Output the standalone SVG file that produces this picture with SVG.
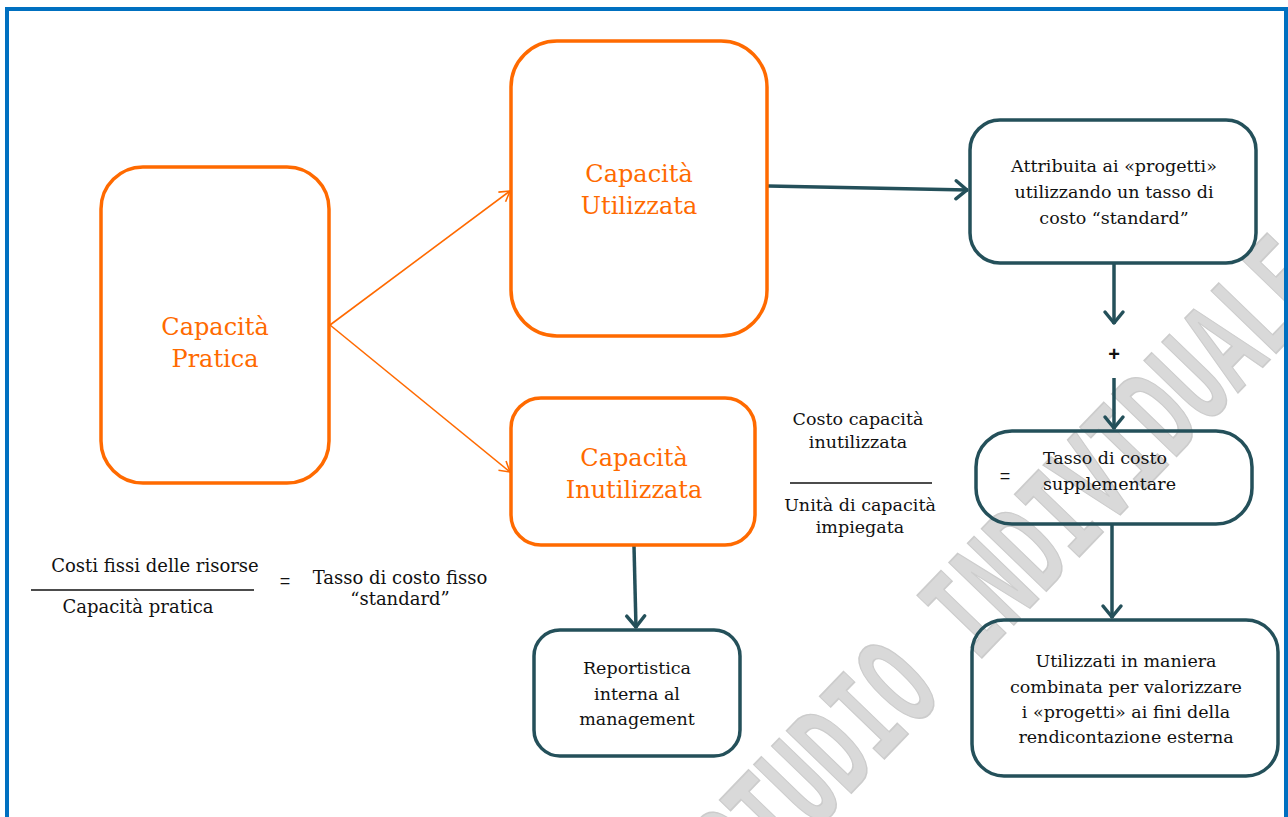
<svg xmlns="http://www.w3.org/2000/svg" width="1288" height="817" viewBox="0 0 1288 817">
<defs>
<style>
.bg{fill:#ffffff}
.frame{fill:none;stroke:#0070C0;stroke-width:4}
.on{fill:none;stroke:#FF6A00;stroke-width:3.5}
.dn{fill:none;stroke:#24505A;stroke-width:3.5}
.ot{font-family:"DejaVu Serif","Liberation Serif",serif;font-size:24px;fill:#FF6A00;text-anchor:middle}
.t{font-family:"DejaVu Serif","Liberation Serif",serif;font-size:17.5px;fill:#111111;text-anchor:middle}
.f{font-size:18px}
.sym{font-family:"Liberation Sans",sans-serif;font-size:20px;font-weight:bold}
.ol{fill:none;stroke:#FF6A00;stroke-width:1.6}
.dl{fill:none;stroke:#24505A;stroke-width:3.5}
.rule{stroke:#111111;stroke-width:1.6}
.wm{font-family:"Liberation Mono","DejaVu Sans Mono",monospace;font-weight:bold;font-size:78px;fill:#d9d9d9;stroke:#cccccc;stroke-width:1}
</style>
<marker id="oa" markerWidth="14" markerHeight="14" refX="12" refY="7" orient="auto" markerUnits="userSpaceOnUse">
<path d="M2,1 L12,7 L2,13" fill="none" stroke="#FF6A00" stroke-width="1.6"/>
</marker>
<marker id="da" markerWidth="24" markerHeight="24" refX="20" refY="12" orient="auto" markerUnits="userSpaceOnUse">
<path d="M8,3 L19,12 L8,21" fill="none" stroke="#24505A" stroke-width="3.5" stroke-linecap="round" stroke-linejoin="round"/>
</marker>
</defs>
<rect class="bg" x="0" y="0" width="1288" height="817"/>

<g id="watermark">
<text class="wm" transform="translate(750,898) rotate(-46) scale(1,1.75)">STUDIO INDIVIDUALE</text>
</g>

<rect class="frame" x="7" y="9" width="1279" height="830"/>

<g id="connectors">
<line class="ol" x1="330" y1="325" x2="510" y2="191" marker-end="url(#oa)"/>
<line class="ol" x1="330" y1="325" x2="510" y2="472" marker-end="url(#oa)"/>
<line class="dl" x1="768" y1="186" x2="968" y2="190" marker-end="url(#da)"/>
<line class="dl" x1="1114" y1="264" x2="1114" y2="324" marker-end="url(#da)"/>
<line class="dl" x1="1114" y1="378" x2="1114" y2="429" marker-end="url(#da)"/>
<line class="dl" x1="1112" y1="525" x2="1112" y2="618" marker-end="url(#da)"/>
<line class="dl" x1="634" y1="546" x2="636" y2="628" marker-end="url(#da)"/>
</g>

<g id="capacita-pratica">
<rect class="on" x="101" y="167" width="228" height="316" rx="42"/>
<text class="ot" x="215" y="335">Capacità</text>
<text class="ot" x="215" y="367">Pratica</text>
</g>

<g id="capacita-utilizzata">
<rect class="on" x="511" y="41" width="256" height="295" rx="46"/>
<text class="ot" x="639" y="182">Capacità</text>
<text class="ot" x="639" y="214">Utilizzata</text>
</g>

<g id="capacita-inutilizzata">
<rect class="on" x="511" y="398" width="244" height="147" rx="30"/>
<text class="ot" x="634" y="466">Capacità</text>
<text class="ot" x="634" y="498">Inutilizzata</text>
</g>

<g id="attribuita">
<rect class="dn" x="970" y="120" width="286" height="143" rx="30"/>
<text class="t" x="1114" y="172">Attribuita ai «progetti»</text>
<text class="t" x="1114" y="198">utilizzando un tasso di</text>
<text class="t" x="1114" y="224">costo “standard”</text>
</g>

<g id="plus">
<text class="t sym" x="1114" y="361">+</text>
</g>

<g id="tasso-supplementare">
<rect class="dn" x="976" y="431" width="276" height="93" rx="36"/>
<text class="t sym" x="1005" y="482" style="font-weight:normal;font-size:18px">=</text>
<text class="t" x="1043" y="464" style="text-anchor:start">Tasso di costo</text>
<text class="t" x="1043" y="490" style="text-anchor:start">supplementare</text>
</g>

<g id="utilizzati">
<rect class="dn" x="972" y="620" width="306" height="156" rx="32"/>
<text class="t" x="1126" y="667">Utilizzati in maniera</text>
<text class="t" x="1126" y="693">combinata per valorizzare</text>
<text class="t" x="1126" y="718">i «progetti» ai fini della</text>
<text class="t" x="1126" y="743">rendicontazione esterna</text>
</g>

<g id="reportistica">
<rect class="dn" x="534" y="630" width="206" height="126" rx="26"/>
<text class="t" x="637" y="674">Reportistica</text>
<text class="t" x="637" y="700">interna al</text>
<text class="t" x="637" y="725">management</text>
</g>

<g id="formula-inutilizzata">
<text class="t" x="858" y="425">Costo capacità</text>
<text class="t" x="858" y="448">inutilizzata</text>
<line class="rule" x1="790" y1="483" x2="932" y2="483"/>
<text class="t" x="860" y="511">Unità di capacità</text>
<text class="t" x="860" y="533">impiegata</text>
</g>

<g id="formula-fissi">
<text class="t f" x="155" y="572">Costi fissi delle risorse</text>
<line class="rule" x1="31" y1="590" x2="254" y2="590"/>
<text class="t f" x="138" y="613">Capacità pratica</text>
<text class="t sym" x="285" y="587" style="font-weight:normal;font-size:18px">=</text>
<text class="t f" x="400" y="584">Tasso di costo fisso</text>
<text class="t f" x="400" y="605">“standard”</text>
</g>
</svg>
